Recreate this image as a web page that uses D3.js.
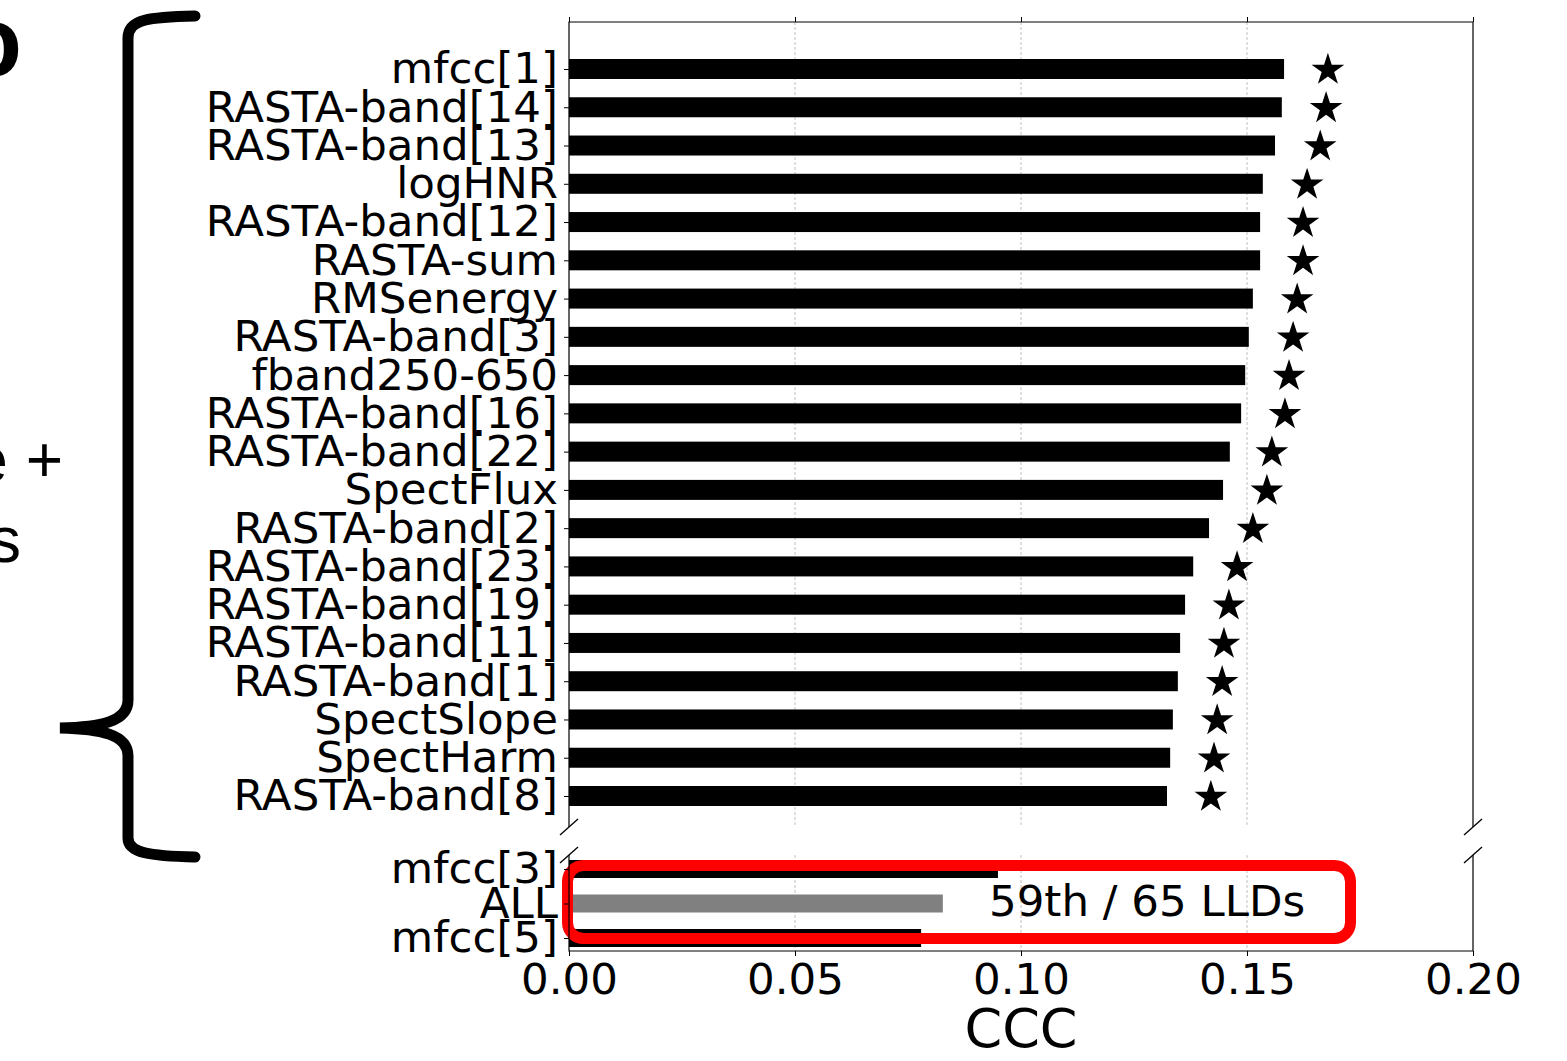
<!DOCTYPE html>
<html>
<head>
<meta charset="utf-8">
<script src="https://cdn.jsdelivr.net/npm/d3@7"></script>
<style>
  body { margin: 0; background: #fff; }
  svg { display: block; }
</style>
</head>
<body>
<div id="chart"></div>
<script>
// Top 20 features (upper panel)
var features = ["mfcc[1]", "RASTA-band[14]", "RASTA-band[13]", "logHNR", "RASTA-band[12]",
    "RASTA-sum", "RMSenergy", "RASTA-band[3]", "fband250-650", "RASTA-band[16]",
    "RASTA-band[22]", "SpectFlux", "RASTA-band[2]", "RASTA-band[23]", "RASTA-band[19]",
    "RASTA-band[11]", "RASTA-band[1]", "SpectSlope", "SpectHarm", "RASTA-band[8]"];
var cccValues = [0.1582, 0.1577, 0.1562, 0.1535, 0.1529, 0.1529, 0.1513, 0.1504, 0.1496, 0.1487,
    0.1462, 0.1447, 0.1416, 0.1381, 0.1363, 0.1352, 0.1347, 0.1336, 0.1330, 0.1323];
// star markers (significance) positions in CCC units
var starValues = [0.1679, 0.1675, 0.1662, 0.1633, 0.1624, 0.1624, 0.1611, 0.1602, 0.1593, 0.1584,
    0.1555, 0.1544, 0.1513, 0.1478, 0.1460, 0.1449, 0.1445, 0.1434, 0.1427, 0.1420];

// lower panel (around the "ALL" baseline)
var lowerFeatures = ["mfcc[3]", "ALL", "mfcc[5]"];
var lowerValues = [0.0949, 0.0827, 0.0779];

var xTicks = [0, 0.05, 0.10, 0.15, 0.20];
var rankText = "59th / 65 LLDs";

var svgWidth = 1567;
var svgHeight = 1061;

var left = 569, right = 1473;
var topY = 22, topBottom = 827;
var lowTop = 855, lowBottom = 951;

var svg = d3.select("#chart")
    .append("svg")
    .attr("width", svgWidth)
    .attr("height", svgHeight);

// scales
var x = d3.scaleLinear().domain([0, 0.2]).range([left, right]);
var yTop = d3.scalePoint().domain(features).range([69, 796]);
var yLow = d3.scalePoint().domain(lowerFeatures).range([869, 938]);

var tickFont = "DejaVu Sans, sans-serif";
var tickSize = 43.5;

// grid lines
function drawGrid(y0, y1) {
    svg.append("g")
        .selectAll("line")
        .data(xTicks.slice(1, -1))
        .enter()
        .append("line")
        .attr("x1", d => x(d))
        .attr("x2", d => x(d))
        .attr("y1", y0)
        .attr("y2", y1)
        .attr("stroke", "#b0b0b0")
        .attr("stroke-width", 0.8)
        .attr("stroke-dasharray", "3,2");
}
drawGrid(topY, topBottom);
drawGrid(lowTop, lowBottom);

// upper bars
var barH = 20;
svg.append("g")
    .selectAll("rect")
    .data(features)
    .enter()
    .append("rect")
    .attr("x", x(0))
    .attr("y", d => yTop(d) - barH / 2)
    .attr("width", (d, i) => x(cccValues[i]) - x(0))
    .attr("height", barH)
    .attr("fill", "#000");

// stars
var star = d3.symbol().type(d3.symbolStar).size(330);
svg.append("g")
    .selectAll("path")
    .data(features)
    .enter()
    .append("path")
    .attr("d", star)
    .attr("transform", (d, i) => `translate(${x(starValues[i])}, ${yTop(d) + 1})`)
    .attr("fill", "#000");

// lower bars
var lowH = 18;
svg.append("g")
    .selectAll("rect")
    .data(lowerFeatures)
    .enter()
    .append("rect")
    .attr("x", x(0))
    .attr("y", d => yLow(d) - lowH / 2)
    .attr("width", (d, i) => x(lowerValues[i]) - x(0))
    .attr("height", lowH)
    .attr("fill", d => d === "ALL" ? "#808080" : "#000");

// red highlight box
svg.append("rect")
    .attr("x", 567.5)
    .attr("y", 865.5)
    .attr("width", 783)
    .attr("height", 73)
    .attr("rx", 16)
    .attr("fill", "none")
    .attr("stroke", "#ff0000")
    .attr("stroke-width", 11);

svg.append("text")
    .attr("x", 989)
    .attr("y", 916)
    .attr("font-family", tickFont)
    .attr("font-size", tickSize)
    .attr("fill", "#000")
    .text(rankText);

// y axes
function styleAxis(g) {
    g.select(".domain").remove();
    g.selectAll("text")
        .attr("font-family", tickFont)
        .attr("font-size", tickSize)
        .attr("fill", "#000");
    g.selectAll("line").attr("stroke", "#000").attr("stroke-width", 1);
}

svg.append("g")
    .attr("transform", `translate(${left}, 0)`)
    .call(d3.axisLeft(yTop).tickSize(5).tickPadding(6))
    .call(styleAxis);

svg.append("g")
    .attr("transform", `translate(${left}, 0)`)
    .call(d3.axisLeft(yLow).tickSize(5).tickPadding(6))
    .call(styleAxis);

// x axes
svg.append("g")
    .attr("transform", `translate(0, ${lowBottom})`)
    .call(d3.axisBottom(x).tickValues(xTicks).tickFormat(d3.format(".2f")).tickSize(5).tickPadding(7))
    .call(styleAxis);

svg.append("g")
    .attr("transform", `translate(0, ${topY})`)
    .call(d3.axisTop(x).tickValues(xTicks).tickFormat("").tickSize(5))
    .call(styleAxis);

svg.append("text")
    .attr("x", x(0.1))
    .attr("y", 1047)
    .attr("text-anchor", "middle")
    .attr("font-family", tickFont)
    .attr("font-size", 54)
    .attr("fill", "#000")
    .text("CCC");

// spines
var spines = svg.append("g").attr("stroke", "#000").attr("stroke-width", 1.2).attr("fill", "none");
spines.append("path").attr("d", `M${left},${topBottom}V${topY}H${right}V${topBottom}`);
spines.append("path").attr("d", `M${left},${lowTop}V${lowBottom}H${right}V${lowTop}`);

// broken-axis marks
var breaks = svg.append("g").attr("stroke", "#000").attr("stroke-width", 1.4);
[[left, topBottom], [right, topBottom], [left, lowTop], [right, lowTop]].forEach(function(p) {
    breaks.append("line")
        .attr("x1", p[0] - 9).attr("y1", p[1] + 8)
        .attr("x2", p[0] + 9).attr("y2", p[1] - 8);
});

// curly brace on the left
svg.append("path")
    .attr("d", "M195,16 C150,17 128,19 128,38 V700 C128,722 100,727 60,728 C100,729 128,734 128,756 V838 C128,853 150,856 195,857")
    .attr("fill", "none")
    .attr("stroke", "#000")
    .attr("stroke-width", 11)
    .attr("stroke-linecap", "round");

// cropped annotation text at far left
var sideFont = "Liberation Sans, Arial, sans-serif";
svg.append("text")
    .attr("x", 22)
    .attr("y", 76)
    .attr("text-anchor", "end")
    .attr("font-family", sideFont)
    .attr("font-weight", "bold")
    .attr("font-size", 100)
    .text("o");
svg.append("text")
    .attr("x", 63)
    .attr("y", 482)
    .attr("text-anchor", "end")
    .attr("font-family", sideFont)
    .attr("font-size", 64)
    .text("e +");
svg.append("text")
    .attr("x", 21)
    .attr("y", 562)
    .attr("text-anchor", "end")
    .attr("font-family", sideFont)
    .attr("font-size", 64)
    .text("s");
</script>
</body>
</html>
